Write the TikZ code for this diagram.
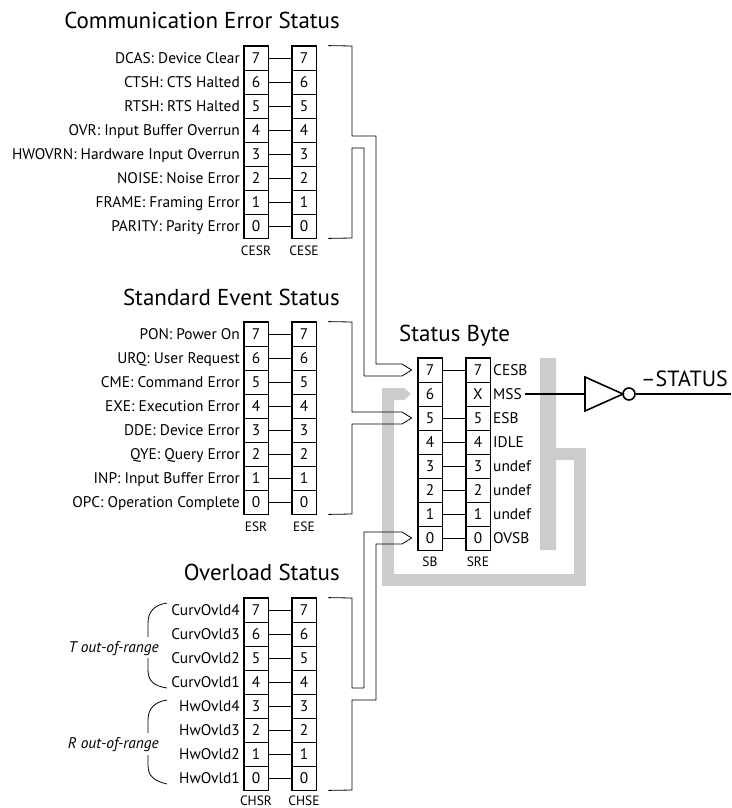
\documentclass[tikz,border=0pt]{standalone}
\usepackage{fontspec}
\setmainfont{PT Sans}
\usetikzlibrary{calc}
\definecolor{busgray}{gray}{0.8}
\newcommand\lblfont{\fontsize{15.4}{15.4}\selectfont}
\newcommand\ttlfont{\fontsize{23}{23}\selectfont}
\newcommand\regfont{\fontsize{13.5}{13.5}\selectfont}
\begin{document}
\begin{tikzpicture}[x=1pt,y=-1pt,
  cell/.style={draw, line width=0.8pt, minimum width=24pt, minimum height=24pt, inner sep=0pt, font=\lblfont},
  lbl/.style={anchor=base east, inner sep=0pt, font=\lblfont},
  rlbl/.style={anchor=base west, inner sep=0pt, font=\lblfont},
  ttl/.style={inner sep=0pt, font=\ttlfont},
  regname/.style={anchor=base, inner sep=0pt, font=\regfont},
  frame/.style={line width=1.8pt},
  link/.style={line width=0.8pt},
  bus/.style={line width=0.8pt, line join=miter},
  sig/.style={line width=1.8pt},
  brace/.style={line width=0.8pt}]
\useasboundingbox (0,0) rectangle (731,808);

% ---------- gray summary bus (drawn first) ----------
\fill[busgray] (382,388) -- (404,388) -- (411,394) -- (404,400) -- (394,400)
  -- (394,574) -- (574,574) -- (574,460) -- (556,460) -- (556,550) -- (540,550)
  -- (540,358) -- (556,358) -- (556,448) -- (586,448) -- (586,586) -- (382,586) -- cycle;

% ---------- titles ----------
\node[ttl, anchor=base east] (tces) at (340,29) {Communication Error Status};
\node[ttl, anchor=base east] (tses) at (340,305) {Standard Event Status};
\node[ttl, anchor=base east] (tovl) at (340,580) {Overload Status};
\node[ttl, anchor=base west] (tsb) at (399,341) {Status Byte};

% ---------- Communication Error Status ----------
\foreach \b/\t in {7/{DCAS: Device Clear},6/{CTSH: CTS Halted},5/{RTSH: RTS Halted},
  4/{OVR: Input Buffer Overrun},3/{HWOVRN: Hardware Input Overrun},2/{NOISE: Noise Error},
  1/{FRAME: Framing Error},0/{PARITY: Parity Error}}{
  \pgfmathsetmacro\yy{58+24*(7-\b)}
  \node[cell] (cesr\b) at (256,\yy) {\b};
  \node[cell] (cese\b) at (304,\yy) {\b};
  \draw[link] (cesr\b) -- (cese\b);
  \node[lbl] (lces\b) at (240,\yy+5.3) {\t};
}
\draw[frame] (cesr7.north west) rectangle (cesr0.south east);
\draw[frame] (cese7.north west) rectangle (cese0.south east);
\node[regname] (ncesr) at (256,255) {CESR};
\node[regname] (ncese) at (304,255) {CESE};

% ---------- Standard Event Status ----------
\foreach \b/\t in {7/{PON: Power On},6/{URQ: User Request},5/{CME: Command Error},
  4/{EXE: Execution Error},3/{DDE: Device Error},2/{QYE: Query Error},
  1/{INP: Input Buffer Error},0/{OPC: Operation Complete}}{
  \pgfmathsetmacro\yy{334+24*(7-\b)}
  \node[cell] (esr\b) at (256,\yy) {\b};
  \node[cell] (ese\b) at (304,\yy) {\b};
  \draw[link] (esr\b) -- (ese\b);
  \node[lbl] (lses\b) at (240,\yy+5.3) {\t};
}
\draw[frame] (esr7.north west) rectangle (esr0.south east);
\draw[frame] (ese7.north west) rectangle (ese0.south east);
\node[regname] (nesr) at (256,531) {ESR};
\node[regname] (nese) at (304,531) {ESE};

% ---------- Overload Status ----------
\foreach \b/\t in {7/CurvOvld4,6/CurvOvld3,5/CurvOvld2,4/CurvOvld1,
  3/HwOvld4,2/HwOvld3,1/HwOvld2,0/HwOvld1}{
  \pgfmathsetmacro\yy{610+24*(7-\b)}
  \node[cell] (chsr\b) at (256,\yy) {\b};
  \node[cell] (chse\b) at (304,\yy) {\b};
  \draw[link] (chsr\b) -- (chse\b);
  \node[lbl] (lovl\b) at (240,\yy+5.3) {\t};
}
\draw[frame] (chsr7.north west) rectangle (chsr0.south east);
\draw[frame] (chse7.north west) rectangle (chse0.south east);
\node[regname] (nchsr) at (256,805) {CHSR};
\node[regname] (nchse) at (304,805) {CHSE};

\node[lbl, font=\lblfont\itshape] (trange) at (159,652) {T out-of-range};
\node[lbl, font=\lblfont\itshape] (rrange) at (159,748) {R out-of-range};
\draw[brace] (167,603) .. controls (154,605) and (148,612) .. (148,623) -- (148,637);
\draw[brace] (148,658) -- (148,670) .. controls (148,681) and (154,686) .. (167,688);
\draw[brace] (167,700) .. controls (154,702) and (148,709) .. (148,720) -- (148,733);
\draw[brace] (148,755) -- (148,765) .. controls (148,776) and (154,781) .. (167,784);

% ---------- Status Byte ----------
\foreach \b/\e/\t in {7/7/CESB,6/X/MSS,5/5/ESB,4/4/IDLE,3/3/undef,2/2/undef,1/1/undef,0/0/OVSB}{
  \pgfmathsetmacro\yy{370+24*(7-\b)}
  \node[cell] (sb\b) at (430,\yy) {\b};
  \node[cell] (sre\b) at (478,\yy) {\e};
  \node[rlbl] (lsre\b) at (493,\yy+5.3) {\t};
}
\foreach \b in {7,5,4,3,2,1,0}{\draw[link] (sb\b) -- (sre\b);}
\draw[frame] (sb7.north west) rectangle (sb0.south east);
\draw[frame] (sre7.north west) rectangle (sre0.south east);
\node[regname] (nsb) at (430,566) {SB};
\node[regname] (nsre) at (478,566) {SRE};

% ---------- summary buses into the Status Byte ----------
\coordinate (tip7) at ($(sb7.west)+(-6,0)$);
\coordinate (tip5) at ($(sb5.west)+(-6,0)$);
\coordinate (tip0) at ($(sb0.west)+(-6,0)$);
% CES
\draw[bus] ($(cese7.north east)+(12,0)$) -- (352,46) -- (352,136) -- (376,136) -- (376,364) -- (402,364) -- (tip7);
\draw[bus] ($(cese0.south east)+(12,0)$) -- (352,238) -- (352,148) -- (364,148) -- (364,376) -- (402,376) -- (tip7);
% SES
\draw[bus] ($(ese7.north east)+(12,0)$) -- (352,322) -- (352,412) -- (402,412) -- (tip5);
\draw[bus] ($(ese0.south east)+(12,0)$) -- (352,514) -- (352,424) -- (402,424) -- (tip5);
% Overload
\draw[bus] ($(chse7.north east)+(12,0)$) -- (352,598) -- (352,688) -- (364,688) -- (364,532) -- (402,532) -- (tip0);
\draw[bus] ($(chse0.south east)+(12,0)$) -- (352,790) -- (352,700) -- (376,700) -- (376,544) -- (402,544) -- (tip0);

% ---------- inverter and output ----------
\coordinate (gin) at (585,394);
\coordinate (gout) at (623,394);
\draw[line width=1.6pt, line join=miter] (585,377) -- (gout) -- (585,411) -- cycle;
\node[circle, draw, line width=1.6pt, minimum size=12pt, inner sep=0pt] (bubble) at (629,394) {};
\coordinate (outend) at (731,394);
\draw[sig] ($(lsre6.base east)+(3,-5.3)$) -- (gin);
\draw[sig] (bubble.east) -- (outend);
\node[ttl, anchor=base west, font=\fontsize{22}{22}\selectfont] (status) at (641,386) {\textendash STATUS};
\end{tikzpicture}
\end{document}
